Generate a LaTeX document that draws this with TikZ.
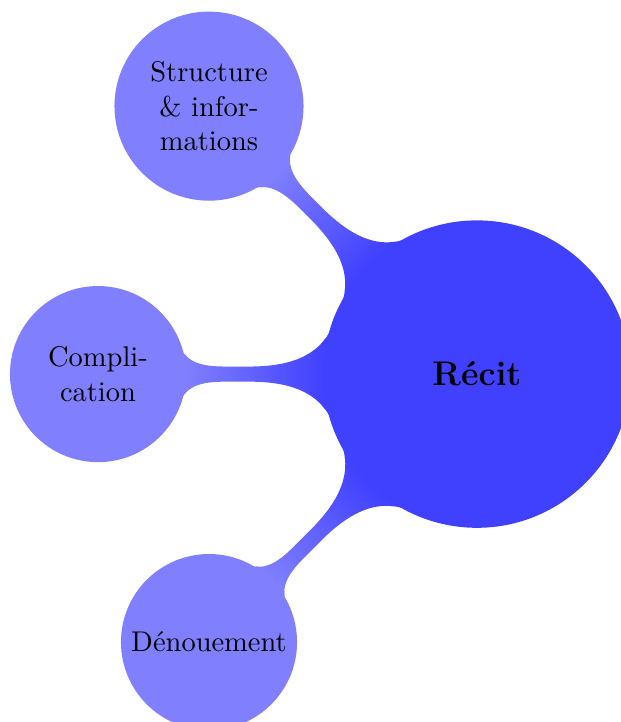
\documentclass[tikz,border=0pt]{standalone}
\usetikzlibrary{mindmap,backgrounds}
\definecolor{recitBlue}{HTML}{4040FF}
\definecolor{partBlue}{HTML}{8080FF}
\tikzset{
  rootconcept/.style={concept, concept color=recitBlue, circle, fill=recitBlue,
              minimum size=3.75cm, text width={}, inner sep=1pt, font=\large\bfseries},
  partconcept/.style={concept, concept color=partBlue, circle, fill=partBlue,
              minimum size=2.13cm, text width={}, align=center, inner sep=1pt, font=\normalsize},
  partbar/.style={circle connection bar switch color=from (recitBlue) to (partBlue)},
}

\begin{document}
\begin{tikzpicture}[mindmap]
  \useasboundingbox (-167.4pt,-122.1pt) rectangle (50.2pt,131.3pt);
  \node[rootconcept] (recit) at (0,0) {Récit};
  \node[partconcept,minimum size=2.29cm] (structure) at (135:133pt) {Structure\\ \& infor-\\mations};
  \node[partconcept] (complication) at (180:133pt) {Compli-\\cation};
  \node[partconcept] (denouement) at (225:133pt) {Dénouement};
  % bars behind the circles
  \begin{pgfonlayer}{background}
    \foreach \p in {structure,complication,denouement}{
      \path (recit) to[partbar] (\p);}
  \end{pgfonlayer}
\end{tikzpicture}
\end{document}
